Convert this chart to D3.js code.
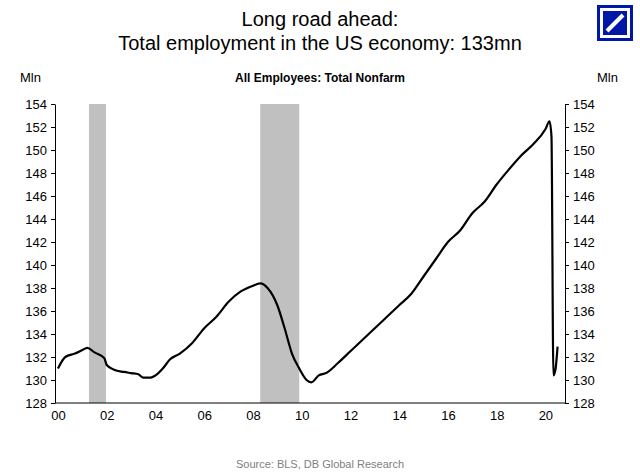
<!DOCTYPE html>
<html><head><meta charset="utf-8">
<script src="https://cdn.jsdelivr.net/npm/d3@7"></script>
<style>body{margin:0;background:#fff;font-family:"Liberation Sans",Arial,sans-serif}</style>
</head><body>
<script>
const years = [2000,2000.3,2000.7,2001,2001.2,2001.5,2001.9,2002,2002.3,2002.7,2003,2003.3,2003.5,2003.8,2004,2004.3,2004.6,2005,2005.5,2006,2006.5,2007,2007.5,2008,2008.3,2008.6,2009,2009.3,2009.6,2009.9,2010.2,2010.4,2010.7,2011,2011.5,2012,2012.5,2013,2013.5,2014,2014.5,2015,2015.5,2016,2016.5,2017,2017.5,2018,2018.5,2019,2019.5,2020,2020.17,2020.25,2020.33,2020.42,2020.5]
const employees = [131.0,132.0,132.3,132.6,132.8,132.4,131.9,131.3,130.9,130.7,130.6,130.5,130.2,130.2,130.4,131.0,131.8,132.3,133.2,134.5,135.5,136.8,137.7,138.2,138.4,138.0,136.5,134.5,132.3,131.0,130.0,129.8,130.4,130.6,131.5,132.5,133.5,134.5,135.5,136.5,137.5,139.0,140.5,142.0,143.0,144.5,145.5,147.0,148.3,149.5,150.5,151.8,152.5,151.2,130.4,131.0,132.9]
const recessions = [[2001.27,2001.97],[2008.3,2009.9]]
const yTicks = d3.range(128,155,2)
const xTicks = d3.range(2000,2021,2)

const svg = d3.select("body").append("svg").attr("width",640).attr("height",474)

const x = d3.scaleLinear().domain([2000,2020.6]).range([58,560])
const y = d3.scaleLinear().domain([128,154]).range([403,104])

svg.selectAll("rect.rec").data(recessions).enter().append("rect")
   .attr("x",d=>x(d[0])).attr("width",d=>x(d[1])-x(d[0]))
   .attr("y",y(154)).attr("height",y(128)-y(154)).attr("fill","#c0c0c0")

const left = svg.append("g").attr("transform","translate(55,0)")
   .call(d3.axisLeft(y).tickValues(yTicks).tickSize(4).tickSizeOuter(0))
const right = svg.append("g").attr("transform","translate(565,0)")
   .call(d3.axisRight(y).tickValues(yTicks).tickSize(4).tickSizeOuter(0))
const bottom = svg.append("g").attr("transform","translate(0,403)")
   .call(d3.axisBottom(x).tickValues(xTicks).tickFormat(d=>d3.format("02")(d%100)).tickSize(0).tickPadding(8))
bottom.select(".domain").attr("d","M55,0H565")
svg.selectAll(".tick text").attr("font-size",13).attr("fill","#000").attr("font-family","Liberation Sans, Arial")
left.selectAll(".tick text").attr("x",-8)
right.selectAll(".tick text").attr("x",8)

svg.append("path").datum(years.map((d,i)=>[d,employees[i]]))
   .attr("d",d3.line().x(d=>x(d[0])).y(d=>y(d[1])).curve(d3.curveMonotoneX))
   .attr("fill","none").attr("stroke","#000").attr("stroke-width",2.2)

svg.append("text").attr("x",320).attr("y",26).attr("text-anchor","middle").attr("font-size",20).text("Long road ahead:")
svg.append("text").attr("x",320).attr("y",50).attr("text-anchor","middle").attr("font-size",20).text("Total employment in the US economy: 133mn")
svg.append("text").attr("x",320).attr("y",82).attr("text-anchor","middle").attr("font-size",12).attr("font-weight","bold").text("All Employees: Total Nonfarm")
svg.append("text").attr("x",20).attr("y",82).attr("font-size",13).text("Mln")
svg.append("text").attr("x",597).attr("y",82).attr("font-size",13).text("Mln")
svg.append("text").attr("x",320).attr("y",468).attr("text-anchor","middle").attr("font-size",11).attr("fill","#808080").text("Source: BLS, DB Global Research")

const logo = svg.append("g").attr("transform","translate(597,5)")
logo.append("rect").attr("width",36).attr("height",36).attr("fill","#0018a8")
logo.append("rect").attr("x",3).attr("y",3).attr("width",30).attr("height",30).attr("fill","#fff")
logo.append("rect").attr("x",6).attr("y",6).attr("width",24).attr("height",24).attr("fill","#0018a8")
logo.append("line").attr("x1",10).attr("y1",26).attr("x2",26).attr("y2",10).attr("stroke","#fff").attr("stroke-width",4)
</script>
</body></html>
